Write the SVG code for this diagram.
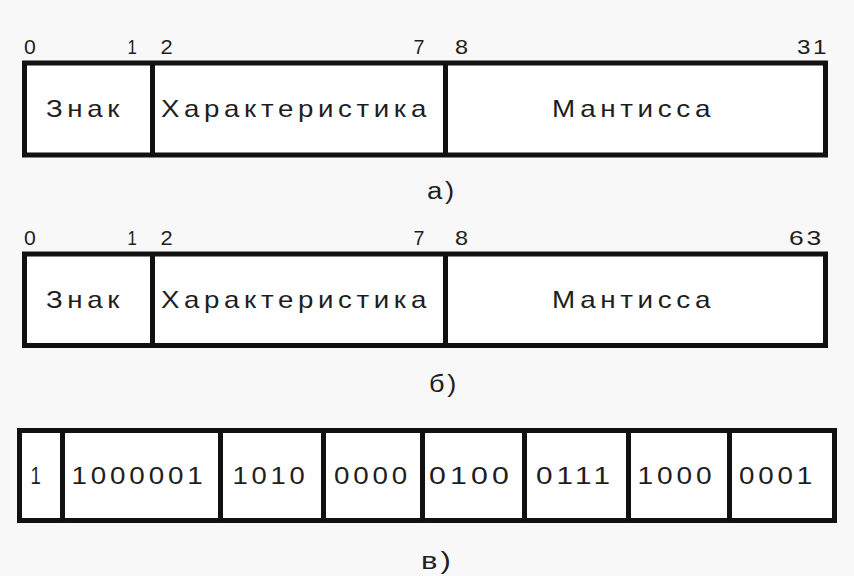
<svg xmlns="http://www.w3.org/2000/svg" width="854" height="576" viewBox="0 0 854 576">
<style>
.bg{fill:#f8f8f8}
.box{fill:#ffffff;stroke:#111;stroke-width:5}
.div{stroke:#111;stroke-width:5}
text{font-family:"Liberation Sans",Arial,sans-serif;fill:#1e1e1e}
.num{font-size:21px;letter-spacing:2.2px}
.word{font-size:24px;letter-spacing:4px}
.bits{font-size:24px;letter-spacing:3.3px}
.cap{font-size:23px;letter-spacing:2.3px}
</style>
<rect class="bg" x="0" y="0" width="854" height="576"/>

<g id="format-a">
<rect class="box" x="24.5" y="63" width="801" height="92"/>
<line class="div" x1="152.5" y1="63" x2="152.5" y2="155"/>
<line class="div" x1="445.5" y1="63" x2="445.5" y2="155"/>
<text class="num" x="24" y="54" textLength="14" lengthAdjust="spacingAndGlyphs">0</text>
<text class="num" x="127.5" y="54" textLength="11" lengthAdjust="spacingAndGlyphs">1</text>
<text class="num" x="160.5" y="54" textLength="14.5" lengthAdjust="spacingAndGlyphs">2</text>
<text class="num" x="413.5" y="54" textLength="13" lengthAdjust="spacingAndGlyphs">7</text>
<text class="num" x="455" y="54" textLength="15.5" lengthAdjust="spacingAndGlyphs">8</text>
<text class="num" x="797" y="54" textLength="32" lengthAdjust="spacingAndGlyphs">31</text>
<text class="word" x="46" y="117" textLength="78" lengthAdjust="spacingAndGlyphs">Знак</text>
<text class="word" x="161" y="117" textLength="270" lengthAdjust="spacingAndGlyphs">Характеристика</text>
<text class="word" x="552" y="117" textLength="163" lengthAdjust="spacingAndGlyphs">Мантисса</text>
<text class="cap" x="427" y="199" textLength="30" lengthAdjust="spacingAndGlyphs">а)</text>
</g>

<g id="format-b">
<rect class="box" x="24.5" y="254" width="801" height="91.5"/>
<line class="div" x1="152.5" y1="254" x2="152.5" y2="345.5"/>
<line class="div" x1="445.5" y1="254" x2="445.5" y2="345.5"/>
<text class="num" x="24" y="245" textLength="14" lengthAdjust="spacingAndGlyphs">0</text>
<text class="num" x="127.5" y="245" textLength="11" lengthAdjust="spacingAndGlyphs">1</text>
<text class="num" x="160.5" y="245" textLength="14.5" lengthAdjust="spacingAndGlyphs">2</text>
<text class="num" x="413.5" y="245" textLength="13" lengthAdjust="spacingAndGlyphs">7</text>
<text class="num" x="455" y="245" textLength="15.5" lengthAdjust="spacingAndGlyphs">8</text>
<text class="num" x="789" y="245" textLength="35" lengthAdjust="spacingAndGlyphs">63</text>
<text class="word" x="46" y="308" textLength="78" lengthAdjust="spacingAndGlyphs">Знак</text>
<text class="word" x="161" y="308" textLength="270" lengthAdjust="spacingAndGlyphs">Характеристика</text>
<text class="word" x="552" y="308" textLength="163" lengthAdjust="spacingAndGlyphs">Мантисса</text>
<text class="cap" x="429" y="392" textLength="30" lengthAdjust="spacingAndGlyphs">б)</text>
</g>

<g id="format-c">
<rect class="box" x="19.5" y="430.5" width="815" height="90"/>
<line class="div" x1="62.5" y1="430.5" x2="62.5" y2="520.5"/>
<line class="div" x1="220.5" y1="430.5" x2="220.5" y2="520.5"/>
<line class="div" x1="323.5" y1="430.5" x2="323.5" y2="520.5"/>
<line class="div" x1="422.5" y1="430.5" x2="422.5" y2="520.5"/>
<line class="div" x1="524.5" y1="430.5" x2="524.5" y2="520.5"/>
<line class="div" x1="628.5" y1="430.5" x2="628.5" y2="520.5"/>
<line class="div" x1="729.5" y1="430.5" x2="729.5" y2="520.5"/>
<text class="bits" x="30.5" y="484" textLength="13" lengthAdjust="spacingAndGlyphs">1</text>
<text class="bits" x="71.5" y="484" textLength="135" lengthAdjust="spacingAndGlyphs">1000001</text>
<text class="bits" x="232.5" y="484" textLength="76" lengthAdjust="spacingAndGlyphs">1010</text>
<text class="bits" x="334" y="484" textLength="77" lengthAdjust="spacingAndGlyphs">0000</text>
<text class="bits" x="429" y="484" textLength="84" lengthAdjust="spacingAndGlyphs">0100</text>
<text class="bits" x="536" y="484" textLength="78" lengthAdjust="spacingAndGlyphs">0111</text>
<text class="bits" x="637.5" y="484" textLength="78" lengthAdjust="spacingAndGlyphs">1000</text>
<text class="bits" x="739" y="484" textLength="77" lengthAdjust="spacingAndGlyphs">0001</text>
<text class="cap" x="421" y="569" textLength="33" lengthAdjust="spacingAndGlyphs">в)</text>
</g>
</svg>
